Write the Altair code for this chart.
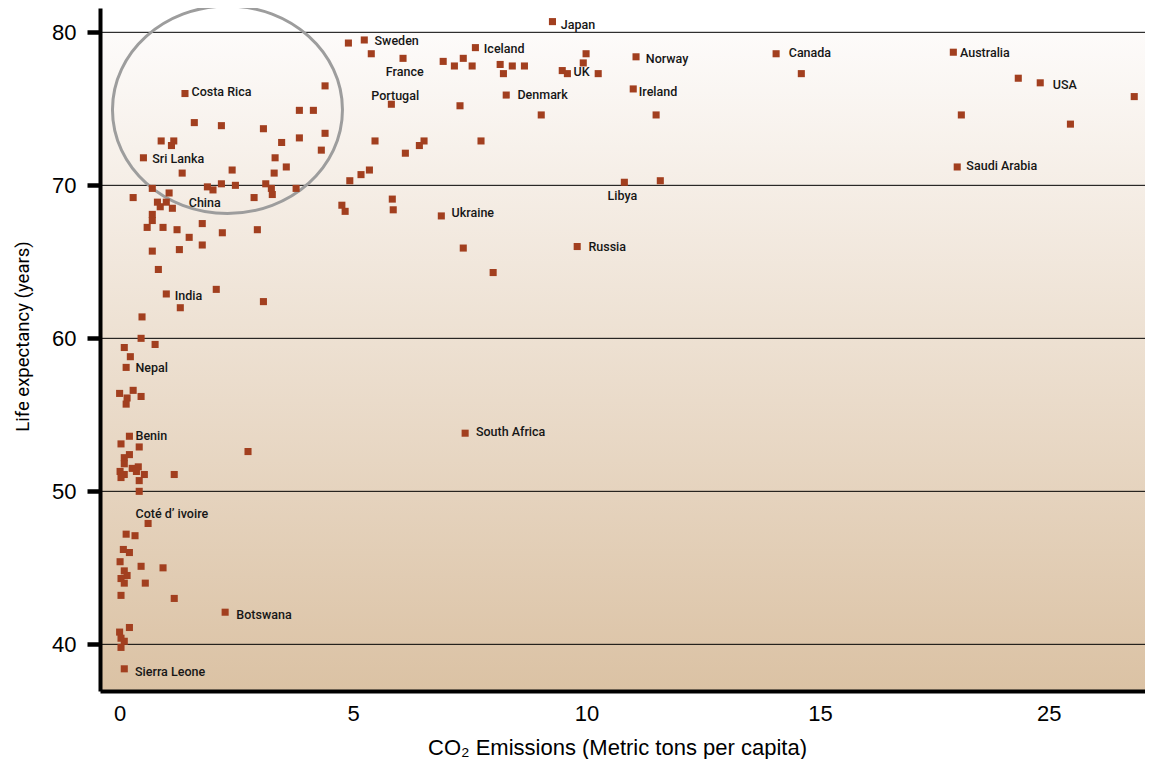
import altair as alt
import pandas as pd

# ---- data ----
co2 = [1.40, 1.60, 2.18, 0.89, 1.16, 1.11, 3.08, 3.47, 3.85, 4.15, 4.40, 3.85, 4.40, 4.32, 0.51, 3.33, 3.57, 1.34, 2.41, 3.31,
       1.88, 2.00, 2.18, 2.48, 3.13, 3.25, 3.27, 3.78, 2.88, 0.29, 0.70, 1.06, 0.81, 0.87, 1.00, 1.13, 0.70, 0.70, 0.59, 0.93,
       1.23, 1.77, 2.20, 2.95, 1.49, 1.77, 0.70, 1.28, 4.90, 5.24, 5.39, 5.82, 5.47, 4.93, 5.17, 5.35, 4.76, 4.83, 5.84, 5.86,
       0.83, 1.00, 2.07, 3.08, 1.30, 0.48, 0.46, 0.76, 0.10, 0.23, 0.14, 0.00, 0.29, 0.16, 0.46, 0.14,
       0.21, 0.03, 0.42, 0.21, 0.10, 0.10, 0.01, 0.10, 0.03, 0.27, 0.40, 0.36, 0.53, 0.42, 0.42, 1.17, 2.75, 0.61, 0.14, 0.33,
       0.08, 0.21, 0.01, 0.46, 0.93, 0.10, 0.16, 0.03,
       0.10, 0.55, 0.03, 1.17, 2.26, 0.21, 0.00, 0.03, 0.10, 0.03, 0.10,
       9.27, 6.07, 7.62, 6.93, 7.17, 7.36, 7.55, 8.15, 8.22, 8.41, 8.67, 9.48, 9.59, 9.93, 9.99, 10.25, 11.06, 11.00, 8.28, 7.29,
       9.03, 11.49, 6.52, 6.42, 6.12, 7.74, 10.81, 11.58, 6.89, 7.36, 9.80, 8.00, 7.40,
       14.06, 14.60, 20.83, 23.67, 24.63, 28.74, 21.18, 25.95, 21.00]

life = [76.0, 74.1, 73.9, 72.9, 72.9, 72.6, 73.7, 72.8, 74.9, 74.9, 76.5, 73.1, 73.4, 72.3, 71.8, 71.8, 71.2, 70.8, 71.0, 70.8,
        69.9, 69.7, 70.1, 70.0, 70.1, 69.8, 69.4, 69.8, 69.2, 69.2, 69.8, 69.5, 68.9, 68.6, 68.9, 68.5, 68.1, 67.7, 67.25, 67.25,
        67.1, 67.5, 66.9, 67.1, 66.6, 66.1, 65.7, 65.8, 79.3, 79.5, 78.6, 75.3, 72.9, 70.3, 70.7, 71.0, 68.7, 68.3, 69.1, 68.4,
        64.5, 62.9, 63.2, 62.4, 62.0, 61.4, 60.0, 59.6, 59.4, 58.8, 58.1, 56.4, 56.6, 56.1, 56.2, 55.7,
        53.6, 53.1, 52.9, 52.4, 52.2, 51.8, 51.3, 51.1, 50.9, 51.5, 51.6, 51.3, 51.1, 50.7, 50.0, 51.1, 52.6, 47.9, 47.2, 47.1,
        46.2, 46.0, 45.4, 45.1, 45.0, 44.8, 44.5, 44.3,
        44.0, 44.0, 43.2, 43.0, 42.1, 41.1, 40.8, 40.4, 40.2, 39.8, 38.4,
        80.7, 78.3, 79.0, 78.1, 77.8, 78.3, 77.8, 77.9, 77.3, 77.8, 77.8, 77.5, 77.3, 78.0, 78.6, 77.3, 78.4, 76.3, 75.9, 75.2,
        74.6, 74.6, 72.9, 72.6, 72.1, 72.9, 70.2, 70.3, 68.0, 65.9, 66.0, 64.3, 53.8,
        78.6, 77.3, 78.7, 77.0, 76.7, 75.8, 74.6, 74.0, 71.2]

label_names = ["Japan", "Sweden", "France", "Portugal", "Iceland", "UK", "Denmark", "Norway", "Ireland",
               "Libya", "Ukraine", "Russia", "South Africa", "Canada", "Australia", "USA", "Saudi Arabia",
               "Costa Rica", "Sri Lanka", "China", "India", "Nepal", "Benin", "Coté d’ ivoire", "Botswana",
               "Sierra Leone"]
label_co2 = [9.45, 5.46, 5.70, 5.39, 7.80, 9.72, 8.52, 11.27, 11.12, 10.45, 7.11, 10.04, 7.63, 14.33, 21.12,
             25.18, 21.40, 1.54, 0.70, 1.48, 1.18, 0.34, 0.34, 0.34, 2.50, 0.33]
label_life = [80.48, 79.45, 77.42, 75.86, 78.91, 77.42, 75.88, 78.27, 76.12, 69.30, 68.21, 65.95, 53.90, 78.63,
              78.63, 76.56, 71.28, 76.12, 71.72, 68.82, 62.76, 58.06, 53.59, 48.50, 41.92, 38.21]

grid_values = [40, 50, 60, 70, 80]
x_tick_values = [0, 5, 10, 15, 25]
circle_co2 = [2.31]
circle_life = [74.94]

# ---- layout ----
W, H = 1045, 683
x_scale = alt.Scale(domain=[-0.42, 15, 25, 29.21], range=[0, 720, 948.7, W], nice=False, zero=False)
y_scale = alt.Scale(domain=[36.95, 81.59], nice=False, zero=False)

x_axis = alt.Axis(values=x_tick_values, format="d", title="CO₂ Emissions (Metric tons per capita)",
                  grid=False, domainColor="black", domainWidth=4, ticks=False, tickSize=0,
                  labelPadding=12, labelFont="Liberation Sans", labelFontSize=22, labelColor="black",
                  labelFlush=False, labelOverlap=False,
                  titleFont="Liberation Sans", titleFontSize=22, titleFontWeight="normal", titleColor="black",
                  titleX=517, titleY=63, titleAlign="center", titleBaseline="alphabetic", zindex=1)
y_axis = alt.Axis(values=grid_values, title="Life expectancy (years)", grid=False,
                  domainColor="black", domainWidth=4, tickColor="black", tickSize=13, tickWidth=4.5,
                  labelPadding=11, labelFont="Liberation Sans", labelFontSize=22, labelColor="black",
                  titleFont="Roboto", titleFontSize=18.5, titleFontWeight="normal",
                  titleColor="black", titleX=-78, titleY=328, titleAngle=270, titleAlign="center",
                  titleBaseline="middle", zindex=1)

pts = pd.DataFrame({"co2": co2, "life": life})
labels = pd.DataFrame({"co2": label_co2, "life": label_life, "name": label_names})
grid_df = pd.DataFrame({"life": grid_values})
circle_df = pd.DataFrame({"co2": circle_co2, "life": circle_life})
bg_df = pd.DataFrame({"life": [grid_values[-1]]})

X = alt.X("co2:Q", scale=x_scale, axis=x_axis)
Y = alt.Y("life:Q", scale=y_scale, axis=y_axis)

bg = alt.Chart(bg_df).mark_rect(
    fill=alt.LinearGradient(gradient="linear",
                            stops=[alt.GradientStop(color="#fdfbfa", offset=0),
                                   alt.GradientStop(color="#dbc2a4", offset=1)],
                            x1=0, x2=0, y1=0, y2=1)
).encode(y=Y, y2=alt.value(H), x=alt.value(0), x2=alt.value(W))

grid = alt.Chart(grid_df).mark_rule(color="black", strokeWidth=1).encode(y=Y)

ellipse = alt.Chart(circle_df).mark_point(
    shape="M -1 0 A 1 0.9017 0 1 1 1 0 A 1 0.9017 0 1 1 -1 0 Z",
    size=52900, filled=False, stroke="#9d9d9d", strokeWidth=3, opacity=1
).encode(x=X, y=Y)

points = alt.Chart(pts).mark_square(size=50, color="#a23f1f", opacity=1).encode(x=X, y=Y)

text = alt.Chart(labels).mark_text(
    align="left", baseline="middle", font="Roboto", fontSize=12.5, fontWeight=500, color="#161616"
).encode(x=X, y=Y, text="name:N")

chart = alt.layer(bg, grid, ellipse, points, text).properties(
    width=W, height=H,
    padding={"left": 92, "top": 0, "right": 0, "bottom": 68},
    autosize=alt.AutoSizeParams(type="none"),
    background="white",
).configure_view(stroke=None)

chart.save("out.html", embed_options={"renderer": "svg", "actions": False})
